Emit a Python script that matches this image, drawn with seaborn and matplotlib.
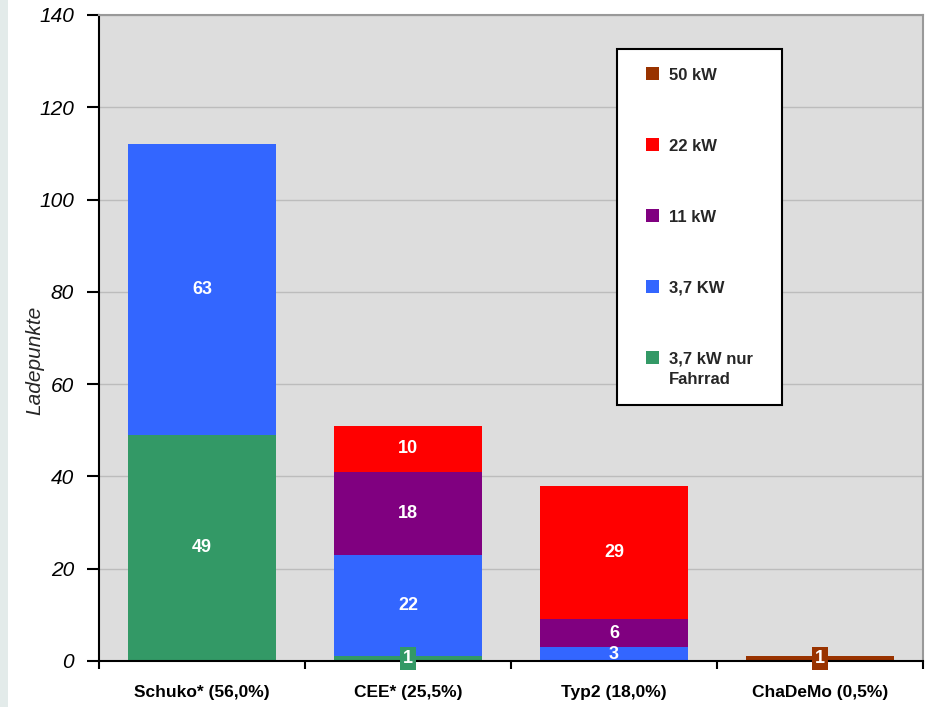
import matplotlib
matplotlib.use("Agg")
import matplotlib.pyplot as plt
from matplotlib.patches import Patch, Rectangle
from matplotlib.legend_handler import HandlerPatch
from matplotlib.ticker import FixedLocator
import numpy as np
import pandas as pd
import seaborn as sns

# Charging points per connector type, split by charging power
categories = ["Schuko* (56,0%)", "CEE* (25,5%)", "Typ2 (18,0%)", "ChaDeMo (0,5%)"]
series = ["3,7 kW nur\nFahrrad", "3,7 KW", "11 kW", "22 kW", "50 kW"]
fahrrad_37 = [49, 1, 0, 0]
kw_37 = [63, 22, 3, 0]
kw_11 = [0, 18, 6, 0]
kw_22 = [0, 10, 29, 0]
kw_50 = [0, 0, 0, 1]
colors = ["#339966", "#3366ff", "#800080", "#ff0000", "#993300"]
y_ticks = [0, 20, 40, 60, 80, 100, 120, 140]

values = np.array([fahrrad_37, kw_37, kw_11, kw_22, kw_50], dtype=float)
cumulative = values.cumsum(axis=0)

sns.set_theme(style="white")
plt.rcParams["font.family"] = ["Liberation Sans", "DejaVu Sans"]

fig = plt.figure(figsize=(9.30, 7.07), dpi=100)
fig.patch.set_facecolor("white")
fig.patches.append(Rectangle((0, 0), 8 / 930, 1, transform=fig.transFigure,
                             facecolor="#e3ebea", edgecolor="none", zorder=0))
ax = fig.add_axes([99 / 930, 1 - 661 / 707, 824 / 930, 646 / 707])
ax.set_facecolor("#dddddd")

# Stacked bars: draw cumulative totals from the top layer down
for i in reversed(range(len(series))):
    df = pd.DataFrame({"cat": categories, "val": cumulative[i]})
    sns.barplot(data=df, x="cat", y="val", order=categories, color=colors[i],
                saturation=1, width=0.715, linewidth=0, ax=ax, zorder=2)

# Value labels in the middle of each segment
for i in range(len(series)):
    for j, cat in enumerate(categories):
        v = values[i, j]
        if v <= 0:
            continue
        y = cumulative[i, j] - v / 2
        box = None
        if v < 2:
            box = dict(boxstyle="square,pad=0.18", facecolor=colors[i], edgecolor="none")
        ax.text(j, y, f"{int(v)}", ha="center", va="center", color="white",
                fontsize=13, fontweight="bold", bbox=box, zorder=5, clip_on=False)

ax.set_xlim(-0.5, 3.5)
ax.set_ylim(0, 140)
ax.yaxis.set_major_locator(FixedLocator(y_ticks))
ax.set_yticklabels([str(t) for t in y_ticks], fontstyle="italic", fontsize=15)
ax.grid(axis="y", color="#bcbcbc", linewidth=1, zorder=0)
ax.set_axisbelow(True)

ax.set_xticks(range(len(categories)))
ax.set_xticklabels(categories, fontsize=12.5, fontweight="bold")
ax.xaxis.set_minor_locator(FixedLocator([-0.5, 0.5, 1.5, 2.5, 3.5]))
ax.tick_params(axis="x", which="major", length=0, pad=17, colors="black")
ax.tick_params(axis="x", which="minor", length=6, width=1.5, direction="out",
               bottom=True, color="black")
ax.tick_params(axis="y", which="major", length=9, width=1.5, direction="out",
               left=True, pad=9, color="black", labelcolor="black")

ax.set_xlabel("")
ax.set_ylabel("Ladepunkte", fontsize=15, fontstyle="italic")
ax.yaxis.set_label_coords(-0.066, 0.466)

for side in ["left", "bottom"]:
    ax.spines[side].set_color("black")
    ax.spines[side].set_linewidth(1.5)
for side in ["top", "right"]:
    ax.spines[side].set_color("#999999")
    ax.spines[side].set_linewidth(1.5)
    ax.spines[side].set_visible(True)
for s in ax.spines.values():
    s.set_zorder(4)


# Small square legend keys, set against the first text line of each entry
def square_handler(lift=0.0):
    def make(legend, orig_handle, xdescent, ydescent, width, height, fontsize):
        s = 9.4
        return Rectangle((-xdescent + width - s, -ydescent + (height - s) / 2 + lift), s, s)
    return HandlerPatch(patch_func=make)


handles = [Patch(facecolor=colors[i], edgecolor="none", label=series[i])
           for i in reversed(range(len(series)))]
handler_map = {h: square_handler(8.3 if "\n" in h.get_label() else 0.0) for h in handles}
leg = ax.legend(handles=handles, handler_map=handler_map, loc="upper left",
                bbox_to_anchor=(0.629, 0.947, 0.2, 0.0), mode="expand",
                prop={"weight": "bold", "size": 12},
                frameon=True, fancybox=False, edgecolor="black", framealpha=1,
                handlelength=1.38, handleheight=0.8, handletextpad=0.6,
                labelspacing=3.35, borderpad=1.1, borderaxespad=0)
for t in leg.get_texts():
    t.set_linespacing(1.45)
leg.get_frame().set_linewidth(1.5)
leg.get_frame().set_facecolor("white")
leg.set_zorder(6)

fig.savefig("out.png", dpi=100)
